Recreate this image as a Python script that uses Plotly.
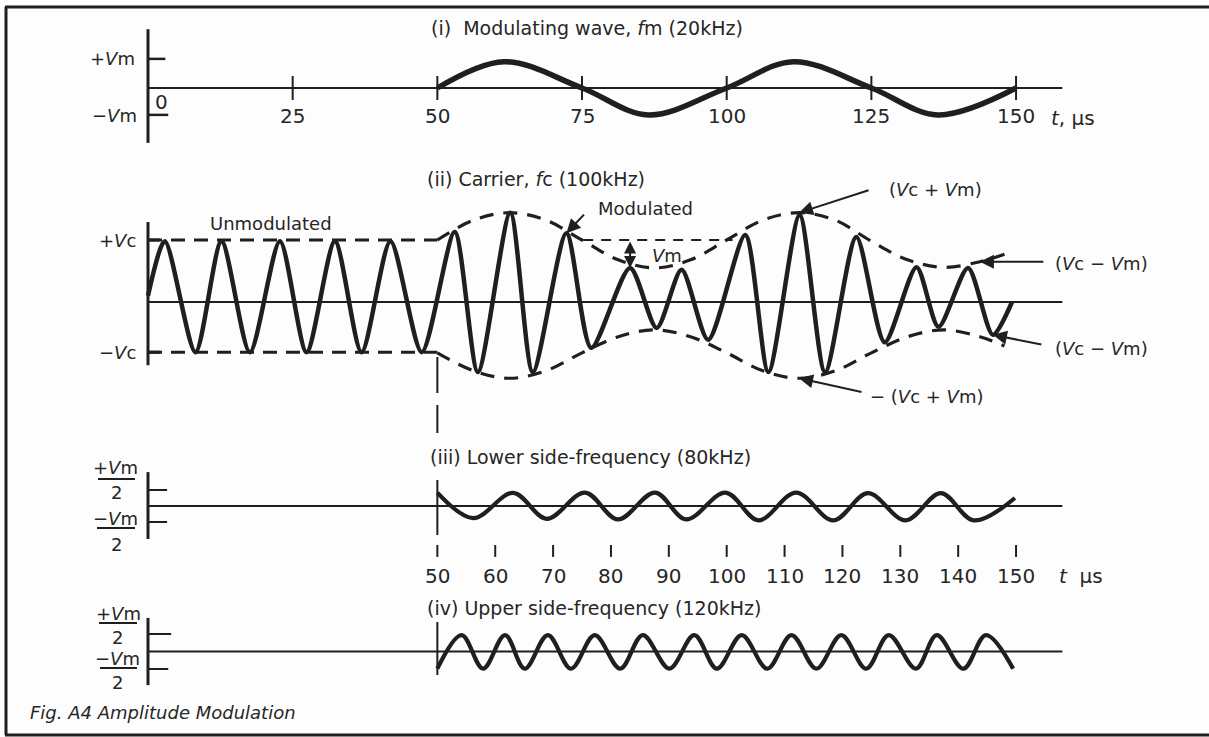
import plotly.graph_objects as go

W, H = 1209, 737

# ------------------------------------------------------------------ data
# (i) modulating wave fm = 20 kHz   (t in microseconds, v in units of Vm)
mod_t = [50, 61.5, 75, 86.5, 100, 111.5, 125, 136.5, 150]
mod_v = [0, 0.94, 0, -0.96, 0, 0.94, 0, -0.96, 0]
axis1_ticks = [25, 50, 75, 100, 125, 150]
axis1_labels = ["25", "50", "75", "100", "125", "150"]

# (ii) carrier fc = 100 kHz  (v in units of Vc) - peaks/troughs
carrier_t = [0, 2.9, 8.2, 12.7, 17.6, 22.8, 27.4, 32.3, 36.9, 41.9, 47.3,
             53.0, 57.0, 62.6, 66.5, 72.3, 76.6, 83.3, 87.9, 92.2, 96.8,
             103.2, 107.2, 112.6, 117.0, 122.4, 127.3, 132.8, 136.6, 141.7, 146.0, 149.3]
carrier_v = [0.1, 0.98, -0.81, 0.98, -0.81, 0.98, -0.81, 0.98, -0.81, 0.98, -0.81,
             1.13, -1.13, 1.44, -1.13, 1.11, -0.74, 0.55, -0.42, 0.52, -0.61,
             1.08, -1.13, 1.40, -1.13, 1.05, -0.65, 0.56, -0.40, 0.55, -0.53, 0.0]
env_t = [50, 56.25, 62.5, 68.75, 75, 81.25, 87.5, 93.75, 100, 106.25, 112.5,
         118.75, 125, 131.25, 137.5, 143.75, 148]
env_top = [1.0, 1.32, 1.44, 1.32, 1.0, 0.68, 0.55, 0.68, 1.0, 1.32, 1.44,
           1.32, 0.98, 0.68, 0.56, 0.65, 0.77]
env_bot = [-0.82, -1.11, -1.23, -1.11, -0.82, -0.56, -0.45, -0.56, -0.82, -1.11, -1.23,
           -1.11, -0.82, -0.56, -0.45, -0.56, -0.71]
vc_pos, vc_neg = 1.0, -0.81
vc_ref2_t = [75.2, 101.0]

# (iii) lower side-frequency 80 kHz  (v in units of Vm)
lsf_t = [50, 56.2, 63.1, 68.9, 75.5, 81.2, 87.6, 93.0, 99.8, 105.5, 112.0,
         118.4, 124.4, 130.9, 137.0, 142.7, 149.8]
lsf_v = [0.42, -0.38, 0.41, -0.40, 0.42, -0.42, 0.42, -0.42, 0.42, -0.45, 0.42,
         -0.45, 0.40, -0.45, 0.40, -0.45, 0.25]
axis3_ticks = [50, 60, 70, 80, 90, 100, 110, 120, 130, 140, 150]
axis3_labels = ["50", "60", "70", "80", "90", "100", "110", "120", "130", "140", "150"]

# (iv) upper side-frequency 120 kHz  (v in units of Vm)
usf_t = [50, 54.2, 57.9, 61.7, 65.1, 69.1, 73.1, 77.2, 81.6, 85.5, 90.1, 94.4,
         98.3, 102.6, 107.0, 111.2, 115.5, 119.8, 124.1, 128.0, 132.7, 136.3,
         140.9, 144.8, 149.5]
usf_v = [-0.49, 0.47, -0.49, 0.47, -0.49, 0.47, -0.49, 0.47, -0.49, 0.47, -0.49, 0.47,
         -0.49, 0.47, -0.49, 0.47, -0.49, 0.47, -0.49, 0.47, -0.49, 0.47,
         -0.49, 0.47, -0.49]

MOD_START = mod_t[0]
AX_END = 158

# ------------------------------------------------------------------ layout helpers
X0_PX, PX_PER_US = 148, 5.787
INK = "#1f1f1f"
TXT = "#262626"
FONT = "DejaVu Sans"

# panel: (zero line pixel row, pixels per unit)
panels = {"y": (88, 28), "y2": (302, 62), "y3": (506, 32), "y4": (651.5, 35)}


def px(xp):
    return xp / W


def py(yp):
    return 1 - yp / H


fig = go.Figure()


def line(x, y, yref, width=2.0, dash=None, shape="linear", smoothing=1.0):
    fig.add_trace(go.Scatter(
        x=x, y=y, xaxis="x", yaxis=yref, mode="lines",
        line=dict(color=INK, width=width, dash=dash, shape=shape,
                  smoothing=smoothing if shape == "spline" else None),
        hoverinfo="skip", showlegend=False, connectgaps=False))


def segs(pairs_x, pairs_y):
    xs, ys = [], []
    for (a, b), (c, d) in zip(pairs_x, pairs_y):
        xs += [a, b, None]
        ys += [c, d, None]
    return xs, ys


# ---- panel (i)
line([0, AX_END], [0, 0], "y", 2.2)
line([0, 0], [2.1, -1.96], "y", 3)
line(*segs([(0, 3), (0, 3.5)], [(1.04, 1.04), (-0.96, -0.96)]), "y", 2.5)
line(*segs([(t, t) for t in axis1_ticks], [(0.43, -0.43)] * len(axis1_ticks)), "y", 2)
line(mod_t, mod_v, "y", 5.5, shape="spline")

# ---- panel (ii)
line([0, AX_END], [0, 0], "y2", 2.2)
line([0, 0], [1.29, -1.02], "y2", 3)
line(*segs([(0, 2), (0, 2)], [(vc_pos, vc_pos), (vc_neg, vc_neg)]), "y2", 3)
line([0, MOD_START], [vc_pos, vc_pos], "y2", 3, dash="14px,9px")
line([0, MOD_START], [vc_neg, vc_neg], "y2", 3, dash="14px,9px")
line(vc_ref2_t, [vc_pos, vc_pos], "y2", 2, dash="10px,8px")
line(env_t, env_top, "y2", 3.2, dash="14px,10px", shape="spline")
line(env_t, env_bot, "y2", 3.2, dash="14px,10px", shape="spline")
line(carrier_t, carrier_v, "y2", 4.5, shape="spline", smoothing=0.75)

# ---- panel (iii)
line([0, AX_END], [0, 0], "y3", 2.2)
line([0, 0], [1.06, -1.03], "y3", 3)
line(*segs([(0, 3.3), (0, 3.3)], [(0.5, 0.5), (-0.5, -0.5)]), "y3", 2)
line(*segs([(t, t) for t in axis3_ticks], [(-1.22, -1.59)] * len(axis3_ticks)), "y3", 2)
line(lsf_t, lsf_v, "y3", 4.2, shape="spline")

# ---- panel (iv)
line([0, AX_END], [0, 0], "y4", 2.2)
line([0, 0], [0.96, -0.96], "y4", 3)
line(*segs([(0, 4), (0, 3.5)], [(0.5, 0.5), (-0.5, -0.5)]), "y4", 2)
line(usf_t, usf_v, "y4", 4.2, shape="spline")

# ------------------------------------------------------------------ annotations
ann = []


def text(s, xp, yp, size=18, anchor="center", italic=False, color=TXT):
    ann.append(dict(text=f"<i>{s}</i>" if italic else s, x=px(xp), y=py(yp),
                    xref="paper", yref="paper", xanchor=anchor, yanchor="middle",
                    showarrow=False, font=dict(family=FONT, size=size, color=color)))


def dtext(s, t, v, yref, size=20, anchor="center"):
    ann.append(dict(text=s, x=t, y=v, xref="x", yref=yref, xanchor=anchor,
                    yanchor="middle", showarrow=False,
                    font=dict(family=FONT, size=size, color=TXT)))


def arrow(t, v, yref, ax, ay):
    ann.append(dict(text="", x=t, y=v, xref="x", yref=yref, ax=ax, ay=ay,
                    showarrow=True, arrowhead=2, arrowsize=1.4, arrowwidth=2,
                    arrowcolor=INK, standoff=0))


# titles
text("(i)  Modulating wave, <i>f</i>m (20kHz)", 429, 28, 19, "left")
text("(ii) Carrier, <i>f</i>c (100kHz)", 425, 179, 19, "left")
text("(iii) Lower side-frequency (80kHz)", 428, 457, 19, "left")
text("(iv) Upper side-frequency (120kHz)", 425, 608, 19, "left")

# panel (i) axis labels
text("+<i>V</i>m", 137, 59, 18, "right")
text("−<i>V</i>m", 139, 115, 18, "right")
text("0", 162, 102, 20)
for t, lab in zip(axis1_ticks, axis1_labels):
    dtext(lab, t, -1.0, "y")
text("<i>t</i>, µs", 1073, 118, 20)

# panel (ii) labels
text("+<i>V</i>c", 138, 240, 18, "right")
text("−<i>V</i>c", 138, 352, 18, "right")
text("Unmodulated", 271, 224, 18)
text("Modulated", 645, 209, 18)
text("<i>V</i>m", 650, 256, 18, "left")
text("(<i>V</i>c + <i>V</i>m)", 935, 190, 18)
text("(<i>V</i>c − <i>V</i>m)", 1053, 264, 18, "left")
text("(<i>V</i>c − <i>V</i>m)", 1053, 349, 18, "left")
text("− (<i>V</i>c + <i>V</i>m)", 868, 396, 18, "left")

i8 = 15   # carrier peak labelled "Modulated"
arrow(carrier_t[i8], carrier_v[i8], "y2", 19, -20)
arrow(env_t[10], env_top[10], "y2", 71, -23)
arrow(env_t[15], env_top[15], "y2", 65, 0)
arrow(carrier_t[30], carrier_v[30], "y2", 50, 10)
arrow(env_t[10], env_bot[10], "y2", 64, 14)
ann.append(dict(text="", x=carrier_t[17], y=carrier_v[17], xref="x", yref="y2",
                ax=carrier_t[17], ay=vc_pos, axref="x", ayref="y2",
                showarrow=True, arrowhead=2, arrowsize=1.2, arrowwidth=2,
                arrowcolor=INK, standoff=0, startstandoff=0, startarrowhead=2,
                startarrowsize=1.2, arrowside="end+start"))

# panel (iii) labels
for t, lab in zip(axis3_ticks, axis3_labels):
    dtext(lab, t, -2.19, "y3")
text("<i>t</i>  µs", 1081, 576, 20)
text("+<i>V</i>m", 115, 467, 18)
text("2", 116, 493, 18)
text("−<i>V</i>m", 115, 518, 18)
text("2", 116, 544, 18)
# panel (iv) labels
text("+<i>V</i>m", 118, 613, 18)
text("2", 117, 637, 18)
text("−<i>V</i>m", 117, 658, 18)
text("2", 117, 682, 18)

text("Fig. A4 Amplitude Modulation", 28, 712, 18, "left", italic=True)

# ------------------------------------------------------------------ shapes
shapes = []
for x0, x1, yy in [(98, 135, 479), (97, 135, 528), (99, 137, 623), (100, 137, 668)]:
    shapes.append(dict(type="line", xref="paper", yref="paper", x0=px(x0), x1=px(x1),
                       y0=py(yy), y1=py(yy), line=dict(color=INK, width=2)))
# frame
for (x0, y0, x1, y1) in [(5, 7, W, 7), (6, 7, 6, 735), (5, 735, W, 735)]:
    shapes.append(dict(type="line", xref="paper", yref="paper", x0=px(x0), x1=px(x1),
                       y0=py(y0), y1=py(y1), line=dict(color=INK, width=3)))
# dashed start line at t = 50
for y0, y1 in [(357, 393), (405, 433), (480, 535), (622, 675)]:
    shapes.append(dict(type="line", xref="x", yref="paper", x0=MOD_START, x1=MOD_START,
                       y0=py(y0), y1=py(y1), line=dict(color=INK, width=2)))

layout = dict(
    width=W, height=H, margin=dict(l=0, r=0, t=0, b=0),
    paper_bgcolor="#fdfdfd", plot_bgcolor="#fdfdfd",
    xaxis=dict(range=[-X0_PX / PX_PER_US, (W - X0_PX) / PX_PER_US], domain=[0, 1],
               visible=False, fixedrange=True),
    annotations=ann, shapes=shapes, showlegend=False,
)
for name, (zero, ppu) in panels.items():
    key = "yaxis" if name == "y" else "yaxis" + name[1:]
    ax = dict(range=[(zero - H) / ppu, zero / ppu], domain=[0, 1], visible=False,
              fixedrange=True, anchor="x")
    if name != "y":
        ax["overlaying"] = "y"
    layout[key] = ax
fig.update_layout(**layout)

fig.write_html("out.html", config={"displayModeBar": False},
               post_script="document.body.style.margin='0';document.body.style.overflow='hidden';")
